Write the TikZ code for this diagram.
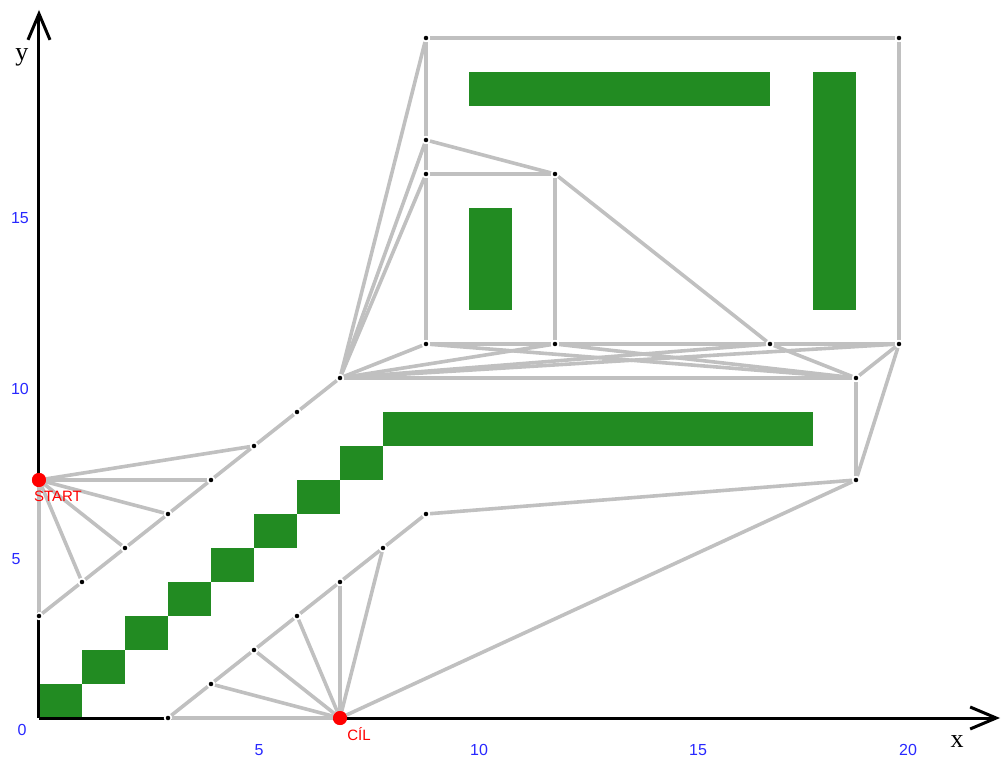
\documentclass[tikz,border=0pt]{standalone}
\usepackage{fontspec}
\setmainfont{Liberation Serif}
\newfontfamily\labfont{Liberation Sans}
\usetikzlibrary{arrows.meta}
\definecolor{edgegray}{RGB}{192,192,192}
\definecolor{obst}{RGB}{34,139,34}
\definecolor{numblue}{RGB}{40,40,255}
\definecolor{ptred}{RGB}{255,0,0}
\begin{document}
\begin{tikzpicture}[x=43pt,y=34pt,
  axis/.style={line width=3pt,black,-{Straight Barb[length=26pt,width=22pt]}},
  edge/.style={line width=3.6pt,edgegray},
  vtx/.style={circle,fill=black,draw=white,line width=1.6pt,minimum size=6.5pt,inner sep=0pt},
  endpt/.style={circle,fill=ptred,minimum size=14pt,inner sep=0pt},
  obstacle/.style={fill=obst},
  num/.style={text=numblue,font=\labfont\fontsize{16}{16}\selectfont,inner sep=0pt},
  ptlabel/.style={text=ptred,font=\labfont\fontsize{15}{15}\selectfont,inner sep=0pt},
  axlabel/.style={font=\fontsize{26}{26}\selectfont,inner sep=0pt}]
\useasboundingbox (-39pt,-40pt) rectangle (962pt,718pt);
% obstacles
\foreach \i in {0,...,7} {\fill[obstacle] (\i,\i) rectangle ++(1,1);}
\fill[obstacle] (8,8) rectangle (18,9);
\fill[obstacle] (10,18) rectangle (17,19);
\fill[obstacle] (18,12) rectangle (19,19);
\fill[obstacle] (10,12) rectangle (11,15);
% axes
\coordinate (O) at (0,0);
\coordinate (yend) at (0pt,708pt);
\coordinate (xend) at (961pt,0pt);
\draw[axis] (O) -- (yend);
\draw[axis] (O) -- (xend);
\node[axlabel] (ylab) at (-17pt,661pt) {y};
\node[axlabel] (xlab) at (918pt,-24pt) {x};
\node[num] (n0) at (-17pt,-12pt) {0};
\node[num] (nx5) at (220pt,-32pt) {5};
\node[num] (nx10) at (440pt,-32pt) {10};
\node[num] (nx15) at (659pt,-32pt) {15};
\node[num] (nx20) at (869pt,-32pt) {20};
\node[num] (ny5) at (-23pt,159pt) {5};
\node[num] (ny10) at (-19pt,329pt) {10};
\node[num] (ny15) at (-19pt,500pt) {15};
% vertices
\node[endpt] (S) at (0,7) {};
\node[endpt] (C) at (7,0) {};
\foreach \n/\p in {a1/{0,3},a2/{1,4},a3/{2,5},a4/{3,6},a5/{4,7},a6/{5,8},a7/{6,9},a8/{7,10},
  b1/{3,0},b2/{4,1},b3/{5,2},b4/{6,3},b5/{7,4},b6/{8,5},b7/{9,6},b8/{19,7},
  c1/{19,10},c2/{20,11},c3/{17,11},c4/{12,11},c5/{9,11},
  d1/{9,16},d2/{12,16},d3/{9,17},d4/{9,20},d5/{20,20}}
  {\node[vtx] (\n) at (\p) {};}
% edges
\foreach \u/\v in {S/a1,S/a2,S/a3,S/a4,S/a5,S/a6,
  a1/a2,a2/a3,a3/a4,a4/a5,a5/a6,a6/a7,a7/a8,
  C/b1,C/b2,C/b3,C/b4,C/b5,C/b6,C/b8,
  b1/b2,b2/b3,b3/b4,b4/b5,b5/b6,b6/b7,b7/b8,
  b8/c1,b8/c2,c1/c2,
  a8/c5,a8/c4,a8/c3,a8/c2,a8/c1,
  c5/c4,c4/c3,c3/c2,c5/c1,c4/c1,c3/c1,
  a8/d1,a8/d3,a8/d4,
  c5/d1,d1/d3,d3/d4,d4/d5,d5/c2,
  d1/d2,d3/d2,d2/c4,d2/c3}
  {\draw[edge] (\u) -- (\v);}
% redraw vertices on top
\node[endpt] at (S) {};
\node[endpt] at (C) {};
\foreach \n in {a1,a2,a3,a4,a5,a6,a7,a8,b1,b2,b3,b4,b5,b6,b7,b8,c1,c2,c3,c4,c5,d1,d2,d3,d4,d5}
  {\node[vtx] at (\n) {};}
\node[ptlabel] (Slab) at (19pt,222pt) {START};
\node[ptlabel] (Clab) at (320pt,-16pt) {CÍL};
\end{tikzpicture}
\end{document}
